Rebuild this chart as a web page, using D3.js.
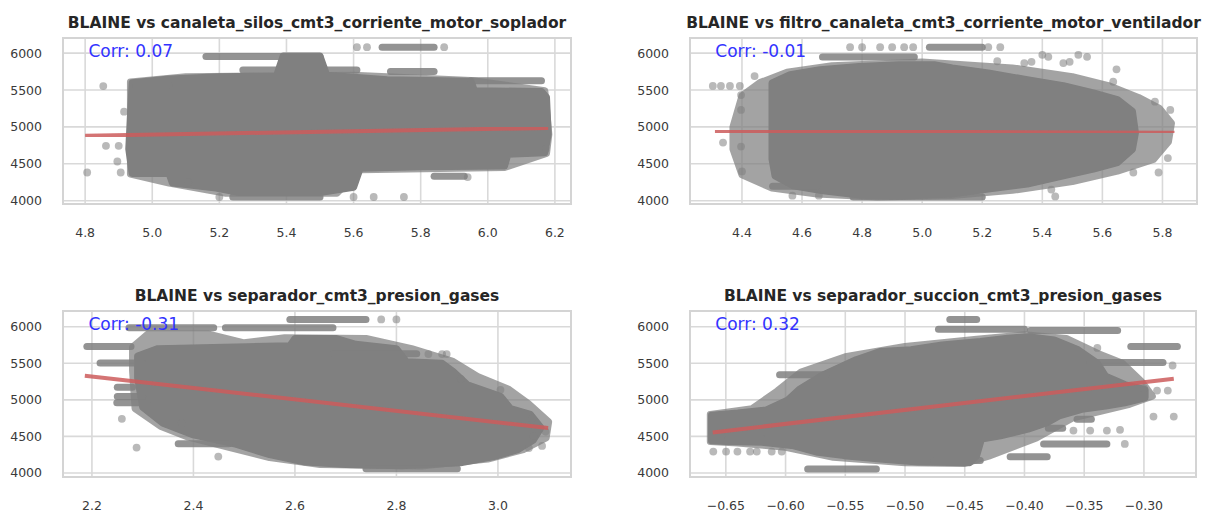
<!DOCTYPE html>
<html>
<head>
<meta charset="utf-8">
<script src="https://cdn.jsdelivr.net/npm/d3@7"></script>
<style>
  body { margin: 0; background: #fff; }
  svg { display: block; }
</style>
</head>
<body>
<div id="chart"></div>
<script>
// Titles, correlation labels and ticks
const titles = [
  "BLAINE vs canaleta_silos_cmt3_corriente_motor_soplador",
  "BLAINE vs filtro_canaleta_cmt3_corriente_motor_ventilador",
  "BLAINE vs separador_cmt3_presion_gases",
  "BLAINE vs separador_succion_cmt3_presion_gases"
];
const corrLabels = ["Corr: 0.07", "Corr: -0.01", "Corr: -0.31", "Corr: 0.32"];
const yTicks = [4000, 4500, 5000, 5500, 6000];
const xTicks1 = [4.8, 5.0, 5.2, 5.4, 5.6, 5.8, 6.0, 6.2];
const xTicks2 = [4.4, 4.6, 4.8, 5.0, 5.2, 5.4, 5.6, 5.8];
const xTicks3 = [2.2, 2.4, 2.6, 2.8, 3.0];
const xTicks4 = [-0.65, -0.60, -0.55, -0.50, -0.45, -0.40, -0.35, -0.30];

// Dense cloud outlines [x, BLAINE]
const core1 = [[4.94, 5600], [5.05, 5650], [5.20, 5680], [5.37, 5690], [5.39, 5960], [5.50, 5960],
  [5.52, 5700], [5.70, 5640], [5.95, 5620], [5.96, 5490], [6.16, 5480], [6.175, 5400], [6.18, 4900],
  [6.17, 4650], [6.06, 4630], [6.05, 4470], [5.80, 4460], [5.62, 4440], [5.60, 4180], [5.50, 4110],
  [5.26, 4110], [5.19, 4170], [5.06, 4240], [5.05, 4370], [4.94, 4370], [4.93, 4700]];
const halo1 = [[4.935, 5610], [5.10, 5680], [5.60, 5700], [5.95, 5630], [6.17, 5490], [6.182, 4900],
  [6.175, 4640], [6.05, 4450], [5.62, 4420], [5.55, 4100], [5.22, 4100], [5.05, 4240], [4.935, 4360]];
const core2 = [[4.50, 5370], [4.50, 5595], [4.56, 5708], [4.66, 5775], [4.79, 5820], [4.92, 5843],
  [5.04, 5843], [5.10, 5798], [5.22, 5730], [5.35, 5640], [5.47, 5560], [5.57, 5460], [5.65, 5370],
  [5.70, 5213], [5.71, 4920], [5.70, 4697], [5.65, 4517], [5.57, 4427], [5.47, 4337], [5.35, 4225],
  [5.22, 4157], [5.10, 4090], [4.92, 4060], [4.79, 4075], [4.67, 4135], [4.57, 4202], [4.51, 4337],
  [4.50, 4562]];
const halo2 = [[4.37, 5000], [4.40, 5420], [4.46, 5600], [4.55, 5740], [4.70, 5830], [5.00, 5880],
  [5.30, 5800], [5.50, 5680], [5.62, 5560], [5.72, 5400], [5.79, 5250], [5.83, 5050], [5.82, 4800],
  [5.77, 4560], [5.65, 4400], [5.50, 4260], [5.30, 4140], [5.10, 4070], [4.85, 4050], [4.65, 4090],
  [4.50, 4170], [4.40, 4350], [4.37, 4700]];
const core3 = [[2.29, 5300], [2.29, 5600], [2.33, 5700], [2.46, 5720], [2.59, 5740], [2.60, 5840],
  [2.68, 5840], [2.72, 5760], [2.80, 5700], [2.82, 5520], [2.89, 5500], [2.912, 5388], [2.94, 5205],
  [3.005, 5050], [3.025, 4880], [3.064, 4800], [3.085, 4620], [3.07, 4452], [3.038, 4315],
  [2.992, 4224], [2.926, 4140], [2.81, 4100], [2.70, 4115], [2.62, 4150], [2.55, 4250], [2.48, 4400],
  [2.40, 4520], [2.34, 4680], [2.30, 4900]];
const halo3 = [[2.28, 5400], [2.28, 5720], [2.31, 5900], [2.43, 5900], [2.50, 5780], [2.58, 5850],
  [2.74, 5840], [2.83, 5700], [2.91, 5530], [2.96, 5320], [3.02, 5150], [3.06, 4950], [3.10, 4700],
  [3.095, 4480], [3.05, 4320], [2.98, 4190], [2.85, 4095], [2.65, 4115], [2.55, 4210], [2.47, 4350],
  [2.39, 4490], [2.335, 4640], [2.285, 4880]];
const core4 = [[-0.662, 4440], [-0.662, 4790], [-0.64, 4820], [-0.616, 4863], [-0.598, 5000],
  [-0.588, 5150], [-0.570, 5330], [-0.541, 5548], [-0.521, 5661], [-0.495, 5684], [-0.469, 5751],
  [-0.437, 5797], [-0.414, 5842], [-0.397, 5864], [-0.375, 5819], [-0.355, 5684], [-0.339, 5503],
  [-0.332, 5322], [-0.316, 5209], [-0.299, 5141], [-0.299, 5028], [-0.316, 4960], [-0.332, 4915],
  [-0.352, 4870], [-0.371, 4780], [-0.381, 4689], [-0.397, 4599], [-0.420, 4508], [-0.436, 4463],
  [-0.440, 4237], [-0.446, 4140], [-0.489, 4150], [-0.521, 4192], [-0.551, 4237], [-0.573, 4282],
  [-0.593, 4372], [-0.620, 4420], [-0.650, 4430]];
const halo4 = [[-0.663, 4430], [-0.663, 4800], [-0.628, 4880], [-0.607, 5120], [-0.587, 5380],
  [-0.55, 5590], [-0.50, 5730], [-0.44, 5830], [-0.40, 5890], [-0.365, 5840], [-0.338, 5630],
  [-0.318, 5500], [-0.302, 5250], [-0.293, 5050], [-0.312, 4940], [-0.36, 4750], [-0.39, 4480],
  [-0.43, 4230], [-0.45, 4130], [-0.50, 4140], [-0.56, 4215], [-0.60, 4350], [-0.64, 4410]];

// Runs of overlapping points [x start, x end, BLAINE]
const rows1 = [[5.16, 5.50, 5955], [5.27, 5.61, 5770], [5.685, 5.84, 6080], [5.71, 5.84, 5750],
  [5.95, 6.16, 5626], [5.84, 5.93, 4330], [5.24, 5.50, 4050], [4.95, 5.05, 5560]];
const rows2 = [[4.668, 4.974, 5946], [5.024, 5.20, 6080], [4.502, 4.65, 4195], [4.77, 5.20, 4050]];
const rows3 = [[2.19, 2.277, 5730], [2.216, 2.30, 5505], [2.25, 2.28, 5174], [2.25, 2.30, 5045],
  [2.249, 2.308, 4959], [2.273, 2.44, 5985], [2.463, 2.675, 5985], [2.59, 2.74, 6100],
  [2.675, 2.84, 5630], [2.74, 2.92, 4058], [2.37, 2.47, 4400]];
const rows4 = [[-0.605, -0.566, 5342], [-0.4625, -0.44, 6099], [-0.472, -0.40, 5964],
  [-0.395, -0.322, 5950], [-0.311, -0.272, 5730], [-0.345, -0.284, 5511], [-0.38, -0.368, 4610],
  [-0.384, -0.331, 4397], [-0.356, -0.344, 4736], [-0.5815, -0.524, 4056], [-0.412, -0.381, 4223],
  [-0.476, -0.437, 4170], [-0.648, -0.62, 4480]];

// Isolated points [x, BLAINE]
const dots1 = [[4.854, 5554], [4.916, 5207], [4.862, 4743], [4.900, 4743], [4.896, 4531],
  [4.806, 4382], [4.906, 4382], [5.107, 4247], [6.173, 4703], [5.94, 4320], [5.87, 6080],
  [5.61, 6080], [5.64, 6080], [5.60, 4050], [5.66, 4050], [5.75, 4050], [5.20, 4050]];
const dots2 = [[4.303, 5555], [4.33, 5555], [4.36, 5555], [4.393, 5555], [4.442, 5689], [4.337, 4788],
  [4.397, 5432], [4.397, 5230], [4.397, 4734], [4.40, 4396], [4.568, 4068], [4.656, 4068],
  [4.76, 6080], [4.80, 6080], [4.86, 6080], [4.90, 6080], [4.94, 6080], [4.97, 6080], [5.22, 6080],
  [5.26, 6080], [5.25, 5890], [5.34, 5865], [5.40, 5977], [5.47, 5865], [5.52, 5977],
  [5.364, 5882], [5.420, 5950], [5.491, 5882], [5.549, 5950], [5.647, 5780], [5.636, 5612],
  [5.775, 5342], [5.826, 5230], [5.818, 4577], [5.787, 4382], [5.703, 4382], [5.443, 4058],
  [5.43, 4150]];
const dots3 = [[2.288, 4347], [2.259, 4740], [2.377, 4681], [2.449, 4224], [2.863, 5626],
  [2.890, 5626], [2.899, 5626], [2.927, 5288], [3.005, 5137], [3.067, 4749], [3.087, 4370],
  [3.061, 4340], [3.094, 4566], [3.07, 4507], [2.77, 6100], [2.80, 6100]];
const dots4 = [[-0.6605, 4292], [-0.6498, 4292], [-0.6403, 4292], [-0.6297, 4292], [-0.6241, 4292],
  [-0.6116, 4292], [-0.6032, 4292], [-0.276, 5470], [-0.289, 5127], [-0.280, 5127], [-0.300, 5160],
  [-0.292, 4771], [-0.275, 4771], [-0.316, 4397], [-0.359, 4580], [-0.345, 4580], [-0.331, 4580],
  [-0.320, 4590], [-0.339, 5710]];

// Regression line end points
const fit1 = [[4.80, 4880], [6.18, 4985]];
const fit2 = [[4.31, 4946], [5.84, 4920]];
const fit3 = [[2.186, 5330], [3.099, 4615]];
const fit4 = [[-0.661, 4555], [-0.275, 5290]];

const panels = [
  { title: titles[0], corr: corrLabels[0], xTicks: xTicks1, core: core1, halo: halo1, rows: rows1, dots: dots1, fit: fit1,
    xDomain: [4.734, 6.248], yDomain: [3955, 6205], left: 63, right: 571, top: 38, bottom: 204 },
  { title: titles[1], corr: corrLabels[1], xTicks: xTicks2, core: core2, halo: halo2, rows: rows2, dots: dots2, fit: fit2,
    xDomain: [4.227, 5.915], yDomain: [3955, 6205], left: 690, right: 1197, top: 38, bottom: 204 },
  { title: titles[2], corr: corrLabels[2], xTicks: xTicks3, core: core3, halo: halo3, rows: rows3, dots: dots3, fit: fit3,
    xDomain: [2.143, 3.144], yDomain: [3945, 6215], left: 63, right: 571, top: 311, bottom: 477 },
  { title: titles[3], corr: corrLabels[3], xTicks: xTicks4, core: core4, halo: halo4, rows: rows4, dots: dots4, fit: fit4,
    xDomain: [-0.680, -0.2564], yDomain: [3945, 6215], left: 690, right: 1196, top: 311, bottom: 477, fmt: ".2f" }
];

const svg = d3.select("#chart").append("svg")
  .attr("width", 1212)
  .attr("height", 512)
  .style("font-family", "'DejaVu Sans', sans-serif");

const defs = svg.append("defs");
defs.append("filter").attr("id", "soft")
  .append("feGaussianBlur").attr("stdDeviation", 0.6);

const grey = "#808080";

panels.forEach((p, i) => {
  const x = d3.scaleLinear().domain(p.xDomain).range([p.left, p.right]);
  const y = d3.scaleLinear().domain(p.yDomain).range([p.bottom, p.top]);
  const g = svg.append("g");

  defs.append("clipPath").attr("id", "clip" + i)
    .append("rect")
    .attr("x", p.left).attr("y", p.top)
    .attr("width", p.right - p.left).attr("height", p.bottom - p.top);

  // grid
  g.append("g").selectAll("line").data(p.xTicks).join("line")
    .attr("x1", d => x(d)).attr("x2", d => x(d))
    .attr("y1", p.top).attr("y2", p.bottom)
    .attr("stroke", "#d9d9d9").attr("stroke-width", 1.6);
  g.append("g").selectAll("line").data(yTicks).join("line")
    .attr("x1", p.left).attr("x2", p.right)
    .attr("y1", d => y(d)).attr("y2", d => y(d))
    .attr("stroke", "#d9d9d9").attr("stroke-width", 1.6);

  // scatter cloud
  const cloud = g.append("g").attr("clip-path", `url(#clip${i})`)
    .append("g").attr("filter", "url(#soft)");
  const blob = d3.line().x(d => x(d[0])).y(d => y(d[1])).curve(d3.curveLinearClosed);

  cloud.append("path").attr("d", blob(p.halo))
    .attr("fill", grey).attr("stroke", grey).attr("stroke-width", 7)
    .attr("stroke-linejoin", "round").attr("opacity", 0.72);
  cloud.append("path").attr("d", blob(p.core))
    .attr("fill", grey).attr("stroke", grey).attr("stroke-width", 7)
    .attr("stroke-linejoin", "round");
  cloud.selectAll("line.row").data(p.rows).join("line").attr("class", "row")
    .attr("x1", d => x(d[0])).attr("x2", d => x(d[1]))
    .attr("y1", d => y(d[2])).attr("y2", d => y(d[2]))
    .attr("stroke", grey).attr("stroke-width", 7).attr("stroke-linecap", "round")
    .attr("opacity", 0.85);
  cloud.selectAll("circle").data(p.dots).join("circle")
    .attr("cx", d => x(d[0])).attr("cy", d => y(d[1])).attr("r", 3.9)
    .attr("fill", grey).attr("opacity", 0.55);

  // regression line
  g.append("path")
    .attr("d", d3.line().x(d => x(d[0])).y(d => y(d[1]))(p.fit))
    .attr("stroke", "#cd5c5c").attr("stroke-width", 4).attr("fill", "none")
    .attr("opacity", 0.85).attr("filter", "url(#soft)");

  // frame
  g.append("rect")
    .attr("x", p.left).attr("y", p.top)
    .attr("width", p.right - p.left).attr("height", p.bottom - p.top)
    .attr("fill", "none").attr("stroke", "#d4d4d4").attr("stroke-width", 2);

  // axes
  const fmt = d3.format(p.fmt || ".1f");
  g.append("g").selectAll("text").data(p.xTicks).join("text")
    .attr("x", d => x(d)).attr("y", p.bottom + 32.5)
    .attr("text-anchor", "middle")
    .attr("font-size", 12.5).attr("fill", "#3a3a3a")
    .text(fmt);
  g.append("g").selectAll("text").data(yTicks).join("text")
    .attr("x", p.left - 21).attr("y", d => y(d) + 4.5)
    .attr("text-anchor", "end")
    .attr("font-size", 12.5).attr("fill", "#3a3a3a")
    .text(d => d);

  // title
  g.append("text")
    .attr("x", (p.left + p.right) / 2).attr("y", p.top - 10)
    .attr("text-anchor", "middle")
    .attr("font-size", 15.5).attr("font-weight", "bold").attr("fill", "#262626")
    .text(p.title);

  // correlation label
  g.append("text")
    .attr("x", p.left + 0.05 * (p.right - p.left)).attr("y", p.top + 19)
    .attr("font-size", 17).attr("fill", "#3333ff")
    .text(p.corr);
});
</script>
</body>
</html>
